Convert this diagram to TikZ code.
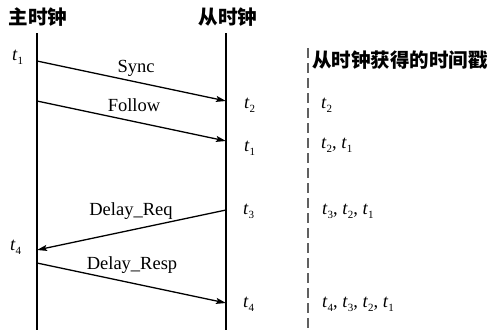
\documentclass[tikz,border=0pt]{standalone}
\usepackage{fontspec}
\setmainfont{Liberation Serif}
\newfontfamily\cjk{Noto Sans CJK SC}
\usetikzlibrary{arrows.meta}
% italic time stamp with lowered subscript
\newcommand\tst[1]{\textit{t}\raisebox{-0.45ex}{\fontsize{11}{11}\selectfont #1}}
\begin{document}
\begin{tikzpicture}[x=1pt,y=-1pt,
  lifeline/.style={line width=1.1pt},
  msg/.style={line width=1.3pt,-{Stealth[length=10pt,width=6pt,inset=2pt]}},
  lbl/.style={font=\fontsize{18.5}{20}\selectfont, inner sep=0pt},
  head/.style={font=\fontsize{19.5}{21}\selectfont\cjk\bfseries, inner sep=0pt},
  stamp/.style={font=\fontsize{18.5}{20}\selectfont, inner sep=0pt, anchor=west}]
\useasboundingbox (0,0) rectangle (488,330);

% lifelines
\node[head] (master) at (38,17) {主时钟};
\node[head] (slave) at (228,17) {从时钟};
\coordinate (mtop) at (37,33);
\coordinate (mbot) at (37,330);
\coordinate (stop) at (226,33);
\coordinate (sbot) at (226,330);
\draw[lifeline] (mtop) -- (mbot);
\draw[lifeline] (stop) -- (sbot);

% column of time stamps held by the slave
\coordinate (dtop) at (308,48);
\coordinate (dbot) at (308,330);
\draw[line width=1.8pt, gray!75!black, dash pattern=on 10pt off 5pt] (dtop) -- (dbot);
\node[head, anchor=west] (col) at (312,60) {从时钟获得的时间戳};

% message end points
\coordinate (m1) at (37,61);   \coordinate (s1) at (226,101);
\coordinate (m2) at (37,101);  \coordinate (s2) at (226,141);
\coordinate (s3) at (226,210); \coordinate (m3) at (37,250);
\coordinate (m4) at (37,263);  \coordinate (s4) at (226,303);

\draw[msg] (m1) -- (s1);
\draw[msg] (m2) -- (s2);
\draw[msg] (s3) -- (m3);
\draw[msg] (m4) -- (s4);

\node[lbl] (lsync) at (136,68) {Sync};
\node[lbl] (lfollow) at (134,105) {Follow};
\node[lbl] (lreq) at (131,211) {Delay\_Req};
\node[lbl] (lresp) at (132,265) {Delay\_Resp};

% time stamps at the lifelines
\node[stamp] (a1) at (12,57) {\tst{1}};
\node[stamp] (a4) at (10,247) {\tst{4}};
\node[stamp] (b2) at (244,105) {\tst{2}};
\node[stamp] (b1) at (244,148) {\tst{1}};
\node[stamp] (b3) at (243,211) {\tst{3}};
\node[stamp] (b4) at (243,304) {\tst{4}};

% time stamps known to the slave
\node[stamp] (c2) at (321,105) {\tst{2}};
\node[stamp] (c21) at (321,145) {\tst{2}, \tst{1}};
\node[stamp] (c321) at (322,211) {\tst{3}, \tst{2}, \tst{1}};
\node[stamp] (c4321) at (322,304) {\tst{4}, \tst{3}, \tst{2}, \tst{1}};
\end{tikzpicture}
\end{document}
